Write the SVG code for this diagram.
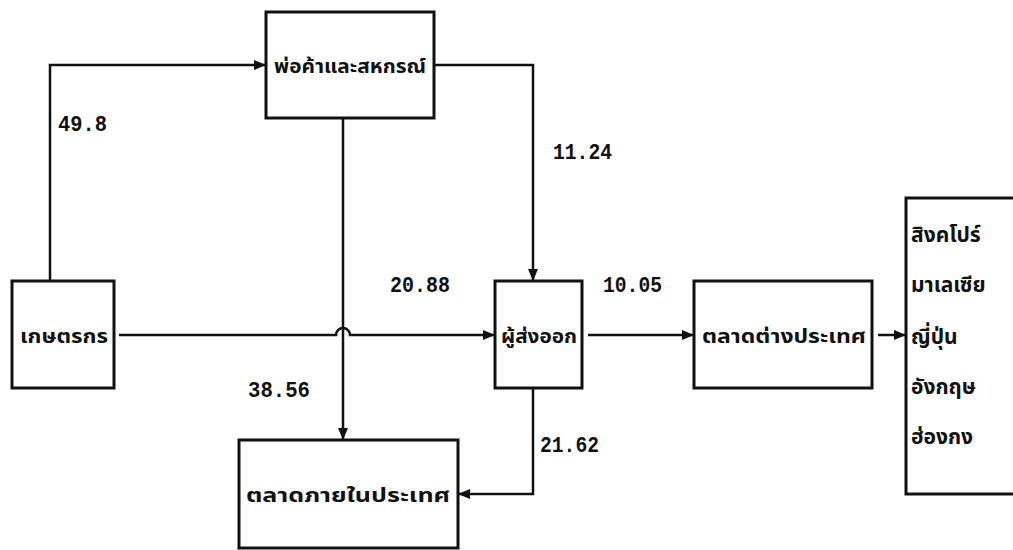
<svg xmlns="http://www.w3.org/2000/svg" width="1013" height="550" viewBox="0 0 1013 550">
  <style>
    .box { fill: #ffffff; stroke: #111111; stroke-width: 3; }
    .line { fill: none; stroke: #111111; stroke-width: 2.5; }
    .lbl { font-family: "Noto Sans Thai", "Noto Sans", "DejaVu Sans", sans-serif; font-weight: bold; font-size: 20px; fill: #111111; }
    .dest { font-size: 21px; }
    .num { font-family: "Liberation Mono", "DejaVu Sans Mono", monospace; font-weight: bold; font-size: 22px; fill: #111111; }
  </style>
  <defs>
    <marker id="arrow" viewBox="0 0 12 10" refX="11" refY="5" markerWidth="12" markerHeight="10" markerUnits="userSpaceOnUse" orient="auto">
      <path d="M0,0 L12,5 L0,10 Z" fill="#111111"/>
    </marker>
  </defs>
  <rect width="1013" height="550" fill="#ffffff"/>

  <!-- connectors -->
  <g id="connectors">
    <!-- farmers to traders and cooperatives -->
    <path class="line" d="M50,281 V65 H265" marker-end="url(#arrow)"/>
    <!-- farmers to exporters, hopping over the vertical flow -->
    <path class="line" d="M119,335 H336 A7,7 0 0 1 350,335 H494" marker-end="url(#arrow)"/>
    <!-- traders to domestic market -->
    <path class="line" d="M343,118 V439" marker-end="url(#arrow)"/>
    <!-- traders to exporters -->
    <path class="line" d="M434,65 H533 V280" marker-end="url(#arrow)"/>
    <!-- exporters to foreign market -->
    <path class="line" d="M588,335 H693" marker-end="url(#arrow)"/>
    <!-- foreign market to destination countries -->
    <path class="line" d="M878,335 H905" marker-end="url(#arrow)"/>
    <!-- exporters to domestic market -->
    <path class="line" d="M533,388 V494 H459" marker-end="url(#arrow)"/>
  </g>

  <!-- flow shares -->
  <g id="flow-labels">
    <text class="num" x="58" y="131" textLength="49" lengthAdjust="spacingAndGlyphs">49.8</text>
    <text class="num" x="553" y="159" textLength="59" lengthAdjust="spacingAndGlyphs">11.24</text>
    <text class="num" x="390" y="292" textLength="60" lengthAdjust="spacingAndGlyphs">20.88</text>
    <text class="num" x="603" y="292" textLength="59" lengthAdjust="spacingAndGlyphs">10.05</text>
    <text class="num" x="248" y="397" textLength="62" lengthAdjust="spacingAndGlyphs">38.56</text>
    <text class="num" x="540" y="452" textLength="59" lengthAdjust="spacingAndGlyphs">21.62</text>
  </g>

  <g id="traders">
    <rect class="box" x="266" y="12" width="168" height="106"/>
    <text class="lbl" x="350" y="73" text-anchor="middle" textLength="152" lengthAdjust="spacingAndGlyphs">พ่อค้าและสหกรณ์</text>
  </g>

  <g id="farmers">
    <rect class="box" x="12" y="281" width="102" height="107"/>
    <text class="lbl" x="64" y="343" text-anchor="middle" textLength="88" lengthAdjust="spacingAndGlyphs">เกษตรกร</text>
  </g>

  <g id="exporters">
    <rect class="box" x="495" y="281" width="87" height="107"/>
    <text class="lbl" x="539" y="343" text-anchor="middle" textLength="76" lengthAdjust="spacingAndGlyphs">ผู้ส่งออก</text>
  </g>

  <g id="foreign-market">
    <rect class="box" x="694" y="281" width="178" height="107"/>
    <text class="lbl" x="784" y="343" text-anchor="middle" textLength="164" lengthAdjust="spacingAndGlyphs">ตลาดต่างประเทศ</text>
  </g>

  <g id="domestic-market">
    <rect class="box" x="239" y="440" width="219" height="108"/>
    <text class="lbl" x="348" y="502" text-anchor="middle" textLength="204" lengthAdjust="spacingAndGlyphs">ตลาดภายในประเทศ</text>
  </g>

  <g id="destinations">
    <rect class="box" x="906" y="198" width="120" height="296"/>
    <text class="lbl dest" x="911" y="242">สิงคโปร์</text>
    <text class="lbl dest" x="911" y="292">มาเลเซีย</text>
    <text class="lbl dest" x="911" y="344">ญี่ปุ่น</text>
    <text class="lbl dest" x="911" y="394">อังกฤษ</text>
    <text class="lbl dest" x="911" y="444">ฮ่องกง</text>
  </g>
</svg>
